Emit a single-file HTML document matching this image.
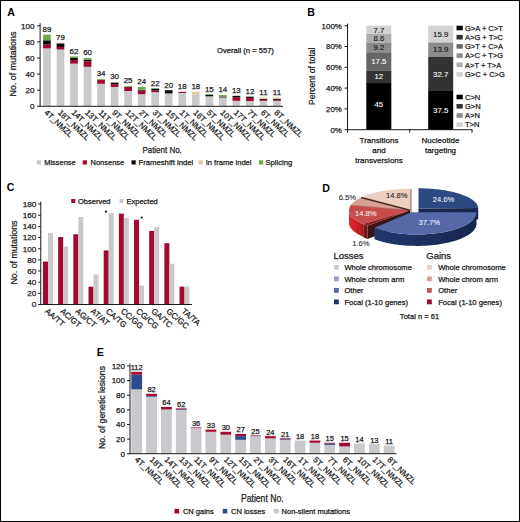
<!DOCTYPE html>
<html lang="en"><head><meta charset="utf-8"><title>Figure</title>
<style>html,body{margin:0;padding:0;background:#fff;overflow:hidden}svg{display:block}text{font-family:"Liberation Sans", sans-serif;}</style>
</head><body>
<svg width="520" height="522" viewBox="0 0 520 522">
<rect x="0" y="0" width="520" height="522" fill="#fff"/>
<text x="7.20" y="16.20" font-size="10.6" font-weight="bold" fill="#000">A</text>
<rect x="43.10" y="48.34" width="7.70" height="57.96" fill="#c9c9cb"/>
<rect x="43.10" y="44.31" width="7.70" height="4.03" fill="#a3082f"/>
<rect x="43.10" y="40.29" width="7.70" height="4.03" fill="#0a0a0a"/>
<rect x="43.10" y="34.66" width="7.70" height="5.64" fill="#6aa84a"/>
<text x="46.95" y="31.95" font-size="7.9" text-anchor="middle" fill="#1a1a1a" stroke="#1a1a1a" stroke-width="0.25">89</text>
<text x="43.85" y="113.20" font-size="8.0" transform="rotate(43.5 43.85 113.20)" fill="#1a1a1a" stroke="#1a1a1a" stroke-width="0.25">4T_NMZL</text>
<rect x="56.63" y="49.55" width="7.70" height="56.75" fill="#c9c9cb"/>
<rect x="56.63" y="46.97" width="7.70" height="2.58" fill="#a3082f"/>
<rect x="56.63" y="43.35" width="7.70" height="3.62" fill="#0a0a0a"/>
<rect x="56.63" y="42.70" width="7.70" height="0.64" fill="#e2c9a0"/>
<text x="60.48" y="40.00" font-size="7.9" text-anchor="middle" fill="#1a1a1a" stroke="#1a1a1a" stroke-width="0.25">79</text>
<text x="57.38" y="113.20" font-size="8.0" transform="rotate(43.5 57.38 113.20)" fill="#1a1a1a" stroke="#1a1a1a" stroke-width="0.25">18T_NMZL</text>
<rect x="70.16" y="63.63" width="7.70" height="42.66" fill="#c9c9cb"/>
<rect x="70.16" y="60.01" width="7.70" height="3.62" fill="#a3082f"/>
<rect x="70.16" y="58.00" width="7.70" height="2.01" fill="#0a0a0a"/>
<rect x="70.16" y="56.39" width="7.70" height="1.61" fill="#6aa84a"/>
<text x="74.01" y="53.69" font-size="7.9" text-anchor="middle" fill="#1a1a1a" stroke="#1a1a1a" stroke-width="0.25">62</text>
<text x="70.91" y="113.20" font-size="8.0" transform="rotate(43.5 70.91 113.20)" fill="#1a1a1a" stroke="#1a1a1a" stroke-width="0.25">14T_NMZL</text>
<rect x="83.69" y="66.85" width="7.70" height="39.45" fill="#c9c9cb"/>
<rect x="83.69" y="61.22" width="7.70" height="5.64" fill="#a3082f"/>
<rect x="83.69" y="59.61" width="7.70" height="1.61" fill="#0a0a0a"/>
<rect x="83.69" y="58.00" width="7.70" height="1.61" fill="#6aa84a"/>
<text x="87.54" y="55.30" font-size="7.9" text-anchor="middle" fill="#1a1a1a" stroke="#1a1a1a" stroke-width="0.25">60</text>
<text x="84.44" y="113.20" font-size="8.0" transform="rotate(43.5 84.44 113.20)" fill="#1a1a1a" stroke="#1a1a1a" stroke-width="0.25">13T_NMZL</text>
<rect x="97.22" y="83.76" width="7.70" height="22.54" fill="#c9c9cb"/>
<rect x="97.22" y="79.73" width="7.70" height="4.03" fill="#a3082f"/>
<rect x="97.22" y="78.93" width="7.70" height="0.81" fill="#6aa84a"/>
<text x="101.07" y="76.23" font-size="7.9" text-anchor="middle" fill="#1a1a1a" stroke="#1a1a1a" stroke-width="0.25">34</text>
<text x="97.97" y="113.20" font-size="8.0" transform="rotate(43.5 97.97 113.20)" fill="#1a1a1a" stroke="#1a1a1a" stroke-width="0.25">11T_NMZL</text>
<rect x="110.75" y="86.98" width="7.70" height="19.32" fill="#c9c9cb"/>
<rect x="110.75" y="84.16" width="7.70" height="2.82" fill="#a3082f"/>
<rect x="110.75" y="82.55" width="7.70" height="1.61" fill="#0a0a0a"/>
<rect x="110.75" y="82.15" width="7.70" height="0.40" fill="#e2c9a0"/>
<text x="114.60" y="79.45" font-size="7.9" text-anchor="middle" fill="#1a1a1a" stroke="#1a1a1a" stroke-width="0.25">30</text>
<text x="111.50" y="113.20" font-size="8.0" transform="rotate(43.5 111.50 113.20)" fill="#1a1a1a" stroke="#1a1a1a" stroke-width="0.25">9T_NMZL</text>
<rect x="124.28" y="91.00" width="7.70" height="15.30" fill="#c9c9cb"/>
<rect x="124.28" y="86.98" width="7.70" height="4.03" fill="#a3082f"/>
<rect x="124.28" y="86.17" width="7.70" height="0.81" fill="#6aa84a"/>
<text x="128.13" y="83.47" font-size="7.9" text-anchor="middle" fill="#1a1a1a" stroke="#1a1a1a" stroke-width="0.25">25</text>
<text x="125.03" y="113.20" font-size="8.0" transform="rotate(43.5 125.03 113.20)" fill="#1a1a1a" stroke="#1a1a1a" stroke-width="0.25">12T_NMZL</text>
<rect x="137.81" y="94.22" width="7.70" height="12.08" fill="#c9c9cb"/>
<rect x="137.81" y="90.60" width="7.70" height="3.62" fill="#a3082f"/>
<rect x="137.81" y="89.80" width="7.70" height="0.81" fill="#0a0a0a"/>
<rect x="137.81" y="86.98" width="7.70" height="2.82" fill="#6aa84a"/>
<text x="141.66" y="84.28" font-size="7.9" text-anchor="middle" fill="#1a1a1a" stroke="#1a1a1a" stroke-width="0.25">24</text>
<text x="138.56" y="113.20" font-size="8.0" transform="rotate(43.5 138.56 113.20)" fill="#1a1a1a" stroke="#1a1a1a" stroke-width="0.25">2T_NMZL</text>
<rect x="151.34" y="92.21" width="7.70" height="14.09" fill="#c9c9cb"/>
<rect x="151.34" y="90.60" width="7.70" height="1.61" fill="#a3082f"/>
<rect x="151.34" y="88.59" width="7.70" height="2.01" fill="#0a0a0a"/>
<text x="155.19" y="85.89" font-size="7.9" text-anchor="middle" fill="#1a1a1a" stroke="#1a1a1a" stroke-width="0.25">22</text>
<text x="152.09" y="113.20" font-size="8.0" transform="rotate(43.5 152.09 113.20)" fill="#1a1a1a" stroke="#1a1a1a" stroke-width="0.25">3T_NMZL</text>
<rect x="164.87" y="93.42" width="7.70" height="12.88" fill="#c9c9cb"/>
<rect x="164.87" y="90.20" width="7.70" height="3.22" fill="#0a0a0a"/>
<text x="168.72" y="87.50" font-size="7.9" text-anchor="middle" fill="#1a1a1a" stroke="#1a1a1a" stroke-width="0.25">20</text>
<text x="165.62" y="113.20" font-size="8.0" transform="rotate(43.5 165.62 113.20)" fill="#1a1a1a" stroke="#1a1a1a" stroke-width="0.25">15T_NMZL</text>
<rect x="178.40" y="92.94" width="7.70" height="13.36" fill="#c9c9cb"/>
<rect x="178.40" y="91.81" width="7.70" height="1.13" fill="#a3082f"/>
<text x="182.25" y="89.11" font-size="7.9" text-anchor="middle" fill="#1a1a1a" stroke="#1a1a1a" stroke-width="0.25">18</text>
<text x="179.15" y="113.20" font-size="8.0" transform="rotate(43.5 179.15 113.20)" fill="#1a1a1a" stroke="#1a1a1a" stroke-width="0.25">1T_NMZL</text>
<rect x="191.93" y="94.63" width="7.70" height="11.67" fill="#c9c9cb"/>
<rect x="191.93" y="91.81" width="7.70" height="2.82" fill="#e2c9a0"/>
<text x="195.78" y="89.11" font-size="7.9" text-anchor="middle" fill="#1a1a1a" stroke="#1a1a1a" stroke-width="0.25">18</text>
<text x="192.68" y="113.20" font-size="8.0" transform="rotate(43.5 192.68 113.20)" fill="#1a1a1a" stroke="#1a1a1a" stroke-width="0.25">16T_NMZL</text>
<rect x="205.46" y="96.32" width="7.70" height="9.98" fill="#c9c9cb"/>
<rect x="205.46" y="94.71" width="7.70" height="1.61" fill="#0a0a0a"/>
<rect x="205.46" y="94.22" width="7.70" height="0.48" fill="#6aa84a"/>
<text x="209.31" y="91.52" font-size="7.9" text-anchor="middle" fill="#1a1a1a" stroke="#1a1a1a" stroke-width="0.25">15</text>
<text x="206.21" y="113.20" font-size="8.0" transform="rotate(43.5 206.21 113.20)" fill="#1a1a1a" stroke="#1a1a1a" stroke-width="0.25">5T_NMZL</text>
<rect x="218.99" y="97.44" width="7.70" height="8.86" fill="#c9c9cb"/>
<rect x="218.99" y="96.48" width="7.70" height="0.97" fill="#0a0a0a"/>
<rect x="218.99" y="95.03" width="7.70" height="1.45" fill="#6aa84a"/>
<text x="222.84" y="92.33" font-size="7.9" text-anchor="middle" fill="#1a1a1a" stroke="#1a1a1a" stroke-width="0.25">14</text>
<text x="219.74" y="113.20" font-size="8.0" transform="rotate(43.5 219.74 113.20)" fill="#1a1a1a" stroke="#1a1a1a" stroke-width="0.25">10T_NMZL</text>
<rect x="232.52" y="100.83" width="7.70" height="5.47" fill="#c9c9cb"/>
<rect x="232.52" y="97.12" width="7.70" height="3.70" fill="#a3082f"/>
<rect x="232.52" y="95.83" width="7.70" height="1.29" fill="#0a0a0a"/>
<text x="236.37" y="93.13" font-size="7.9" text-anchor="middle" fill="#1a1a1a" stroke="#1a1a1a" stroke-width="0.25">13</text>
<text x="233.27" y="113.20" font-size="8.0" transform="rotate(43.5 233.27 113.20)" fill="#1a1a1a" stroke="#1a1a1a" stroke-width="0.25">17T_NMZL</text>
<rect x="246.05" y="101.07" width="7.70" height="5.23" fill="#c9c9cb"/>
<rect x="246.05" y="97.85" width="7.70" height="3.22" fill="#a3082f"/>
<rect x="246.05" y="96.64" width="7.70" height="1.21" fill="#0a0a0a"/>
<text x="249.90" y="93.94" font-size="7.9" text-anchor="middle" fill="#1a1a1a" stroke="#1a1a1a" stroke-width="0.25">12</text>
<text x="246.80" y="113.20" font-size="8.0" transform="rotate(43.5 246.80 113.20)" fill="#1a1a1a" stroke="#1a1a1a" stroke-width="0.25">7T_NMZL</text>
<rect x="259.58" y="100.83" width="7.70" height="5.47" fill="#c9c9cb"/>
<rect x="259.58" y="99.86" width="7.70" height="0.97" fill="#a3082f"/>
<rect x="259.58" y="98.89" width="7.70" height="0.97" fill="#0a0a0a"/>
<rect x="259.58" y="97.45" width="7.70" height="1.45" fill="#e2c9a0"/>
<text x="263.43" y="94.74" font-size="7.9" text-anchor="middle" fill="#1a1a1a" stroke="#1a1a1a" stroke-width="0.25">11</text>
<text x="260.33" y="113.20" font-size="8.0" transform="rotate(43.5 260.33 113.20)" fill="#1a1a1a" stroke="#1a1a1a" stroke-width="0.25">6T_NMZL</text>
<rect x="273.11" y="100.83" width="7.70" height="5.47" fill="#c9c9cb"/>
<rect x="273.11" y="99.86" width="7.70" height="0.97" fill="#a3082f"/>
<rect x="273.11" y="98.89" width="7.70" height="0.97" fill="#0a0a0a"/>
<rect x="273.11" y="97.45" width="7.70" height="1.45" fill="#e2c9a0"/>
<text x="276.96" y="94.74" font-size="7.9" text-anchor="middle" fill="#1a1a1a" stroke="#1a1a1a" stroke-width="0.25">11</text>
<text x="273.86" y="113.20" font-size="8.0" transform="rotate(43.5 273.86 113.20)" fill="#1a1a1a" stroke="#1a1a1a" stroke-width="0.25">8T_NMZL</text>
<line x1="40.10" y1="23.30" x2="40.10" y2="106.80" stroke="#1a1a1a" stroke-width="1"/>
<line x1="39.60" y1="106.30" x2="283.00" y2="106.30" stroke="#1a1a1a" stroke-width="1"/>
<line x1="37.10" y1="106.30" x2="40.10" y2="106.30" stroke="#1a1a1a" stroke-width="1"/>
<text x="34.60" y="109.10" font-size="8.1" text-anchor="end" fill="#1a1a1a" stroke="#1a1a1a" stroke-width="0.25">0</text>
<line x1="37.10" y1="90.20" x2="40.10" y2="90.20" stroke="#1a1a1a" stroke-width="1"/>
<text x="34.60" y="93.00" font-size="8.1" text-anchor="end" fill="#1a1a1a" stroke="#1a1a1a" stroke-width="0.25">20</text>
<line x1="37.10" y1="74.10" x2="40.10" y2="74.10" stroke="#1a1a1a" stroke-width="1"/>
<text x="34.60" y="76.90" font-size="8.1" text-anchor="end" fill="#1a1a1a" stroke="#1a1a1a" stroke-width="0.25">40</text>
<line x1="37.10" y1="58.00" x2="40.10" y2="58.00" stroke="#1a1a1a" stroke-width="1"/>
<text x="34.60" y="60.80" font-size="8.1" text-anchor="end" fill="#1a1a1a" stroke="#1a1a1a" stroke-width="0.25">60</text>
<line x1="37.10" y1="41.90" x2="40.10" y2="41.90" stroke="#1a1a1a" stroke-width="1"/>
<text x="34.60" y="44.70" font-size="8.1" text-anchor="end" fill="#1a1a1a" stroke="#1a1a1a" stroke-width="0.25">80</text>
<line x1="37.10" y1="25.80" x2="40.10" y2="25.80" stroke="#1a1a1a" stroke-width="1"/>
<text x="34.60" y="28.60" font-size="8.1" text-anchor="end" fill="#1a1a1a" stroke="#1a1a1a" stroke-width="0.25">100</text>
<text x="16.20" y="64.00" font-size="8.8" text-anchor="middle" transform="rotate(-90 16.20 64.00)" textLength="65" lengthAdjust="spacingAndGlyphs" fill="#1a1a1a" stroke="#1a1a1a" stroke-width="0.25">No. of mutations</text>
<text x="162.10" y="153.30" font-size="9.4" text-anchor="middle" textLength="39.4" lengthAdjust="spacingAndGlyphs" fill="#1a1a1a" stroke="#1a1a1a" stroke-width="0.25">Patient No.</text>
<text x="217.10" y="52.80" font-size="7.6" textLength="56.8" lengthAdjust="spacingAndGlyphs" fill="#1a1a1a" stroke="#1a1a1a" stroke-width="0.25">Overall (n = 557)</text>
<rect x="36.80" y="160.30" width="4.20" height="4.20" fill="#c9c9cb"/>
<text x="44.20" y="165.10" font-size="7.6" textLength="31.5" lengthAdjust="spacingAndGlyphs" fill="#1a1a1a" stroke="#1a1a1a" stroke-width="0.25">Missense</text>
<rect x="82.70" y="160.30" width="4.20" height="4.20" fill="#a3082f"/>
<text x="90.50" y="165.10" font-size="7.6" textLength="33.7" lengthAdjust="spacingAndGlyphs" fill="#1a1a1a" stroke="#1a1a1a" stroke-width="0.25">Nonsense</text>
<rect x="131.50" y="160.30" width="4.20" height="4.20" fill="#0a0a0a"/>
<text x="138.50" y="165.10" font-size="7.6" textLength="54.8" lengthAdjust="spacingAndGlyphs" fill="#1a1a1a" stroke="#1a1a1a" stroke-width="0.25">Frameshift indel</text>
<rect x="198.50" y="160.30" width="4.20" height="4.20" fill="#e2c9a0"/>
<text x="205.70" y="165.10" font-size="7.6" textLength="45.8" lengthAdjust="spacingAndGlyphs" fill="#1a1a1a" stroke="#1a1a1a" stroke-width="0.25">In frame indel</text>
<rect x="259.00" y="160.30" width="4.20" height="4.20" fill="#6aa84a"/>
<text x="265.40" y="165.10" font-size="7.6" textLength="26.8" lengthAdjust="spacingAndGlyphs" fill="#1a1a1a" stroke="#1a1a1a" stroke-width="0.25">Splicing</text>
<text x="307.30" y="16.20" font-size="10.6" font-weight="bold" fill="#000">B</text>
<rect x="366.30" y="82.90" width="25.00" height="47.10" fill="#000000"/>
<text x="378.80" y="107.10" font-size="7.8" text-anchor="middle" fill="#fff" stroke="#fff" stroke-width="0.1">45</text>
<rect x="366.30" y="70.42" width="25.00" height="12.78" fill="#333333"/>
<text x="378.80" y="79.46" font-size="7.8" text-anchor="middle" fill="#fff" stroke="#fff" stroke-width="0.1">12</text>
<rect x="366.30" y="52.22" width="25.00" height="18.50" fill="#666666"/>
<text x="378.80" y="64.12" font-size="7.8" text-anchor="middle" fill="#fff" stroke="#fff" stroke-width="0.1">17.5</text>
<rect x="366.30" y="42.65" width="25.00" height="9.87" fill="#8c8c8c"/>
<text x="378.80" y="50.24" font-size="7.8" text-anchor="middle" fill="#111" stroke="#111" stroke-width="0.1">9.2</text>
<rect x="366.30" y="33.71" width="25.00" height="9.24" fill="#adadad"/>
<text x="378.80" y="40.98" font-size="7.8" text-anchor="middle" fill="#111" stroke="#111" stroke-width="0.1">8.6</text>
<rect x="366.30" y="25.70" width="25.00" height="8.31" fill="#d2d2d2"/>
<text x="378.80" y="32.50" font-size="7.8" text-anchor="middle" fill="#111" stroke="#111" stroke-width="0.1">7.7</text>
<rect x="428.20" y="90.70" width="25.00" height="39.30" fill="#000000"/>
<text x="440.70" y="113.00" font-size="7.8" text-anchor="middle" fill="#fff" stroke="#fff" stroke-width="0.1">37.5</text>
<rect x="428.20" y="56.69" width="25.00" height="34.31" fill="#333333"/>
<text x="440.70" y="76.50" font-size="7.8" text-anchor="middle" fill="#fff" stroke="#fff" stroke-width="0.1">32.7</text>
<rect x="428.20" y="42.24" width="25.00" height="14.76" fill="#8c8c8c"/>
<text x="440.70" y="52.26" font-size="7.8" text-anchor="middle" fill="#111" stroke="#111" stroke-width="0.1">13.9</text>
<rect x="428.20" y="25.70" width="25.00" height="16.84" fill="#d2d2d2"/>
<text x="440.70" y="36.77" font-size="7.8" text-anchor="middle" fill="#111" stroke="#111" stroke-width="0.1">15.9</text>
<line x1="347.50" y1="23.60" x2="347.50" y2="130.20" stroke="#1a1a1a" stroke-width="1"/>
<line x1="347.00" y1="129.70" x2="472.50" y2="129.70" stroke="#1a1a1a" stroke-width="1"/>
<line x1="347.50" y1="129.70" x2="347.50" y2="132.70" stroke="#1a1a1a" stroke-width="1"/>
<line x1="409.70" y1="129.70" x2="409.70" y2="132.70" stroke="#1a1a1a" stroke-width="1"/>
<line x1="472.00" y1="129.70" x2="472.00" y2="132.70" stroke="#1a1a1a" stroke-width="1"/>
<line x1="344.50" y1="129.70" x2="347.50" y2="129.70" stroke="#1a1a1a" stroke-width="1"/>
<text x="341.80" y="132.50" font-size="7.9" text-anchor="end" fill="#1a1a1a" stroke="#1a1a1a" stroke-width="0.25">0%</text>
<line x1="344.50" y1="108.90" x2="347.50" y2="108.90" stroke="#1a1a1a" stroke-width="1"/>
<text x="341.80" y="111.70" font-size="7.9" text-anchor="end" fill="#1a1a1a" stroke="#1a1a1a" stroke-width="0.25">20%</text>
<line x1="344.50" y1="88.10" x2="347.50" y2="88.10" stroke="#1a1a1a" stroke-width="1"/>
<text x="341.80" y="90.90" font-size="7.9" text-anchor="end" fill="#1a1a1a" stroke="#1a1a1a" stroke-width="0.25">40%</text>
<line x1="344.50" y1="67.30" x2="347.50" y2="67.30" stroke="#1a1a1a" stroke-width="1"/>
<text x="341.80" y="70.10" font-size="7.9" text-anchor="end" fill="#1a1a1a" stroke="#1a1a1a" stroke-width="0.25">60%</text>
<line x1="344.50" y1="46.50" x2="347.50" y2="46.50" stroke="#1a1a1a" stroke-width="1"/>
<text x="341.80" y="49.30" font-size="7.9" text-anchor="end" fill="#1a1a1a" stroke="#1a1a1a" stroke-width="0.25">80%</text>
<line x1="344.50" y1="25.70" x2="347.50" y2="25.70" stroke="#1a1a1a" stroke-width="1"/>
<text x="341.80" y="28.50" font-size="7.9" text-anchor="end" fill="#1a1a1a" stroke="#1a1a1a" stroke-width="0.25">100%</text>
<text x="314.90" y="76.30" font-size="8.8" text-anchor="middle" transform="rotate(-90 314.90 76.30)" textLength="57.5" lengthAdjust="spacingAndGlyphs" fill="#1a1a1a" stroke="#1a1a1a" stroke-width="0.25">Percent of total</text>
<text x="379.00" y="142.80" font-size="8" text-anchor="middle" fill="#1a1a1a" stroke="#1a1a1a" stroke-width="0.25">Transitions</text>
<text x="379.00" y="152.80" font-size="8" text-anchor="middle" fill="#1a1a1a" stroke="#1a1a1a" stroke-width="0.25">and</text>
<text x="379.00" y="162.80" font-size="8" text-anchor="middle" fill="#1a1a1a" stroke="#1a1a1a" stroke-width="0.25">transversions</text>
<text x="440.50" y="142.80" font-size="8" text-anchor="middle" fill="#1a1a1a" stroke="#1a1a1a" stroke-width="0.25">Nucleotide</text>
<text x="440.50" y="152.80" font-size="8" text-anchor="middle" fill="#1a1a1a" stroke="#1a1a1a" stroke-width="0.25">targeting</text>
<rect x="456.50" y="25.70" width="6.30" height="4.60" fill="#000000"/>
<text x="465.00" y="30.70" font-size="7.5" fill="#1a1a1a" stroke="#1a1a1a" stroke-width="0.25">G&gt;A + C&gt;T</text>
<rect x="456.50" y="34.90" width="6.30" height="4.60" fill="#333333"/>
<text x="465.00" y="39.90" font-size="7.5" fill="#1a1a1a" stroke="#1a1a1a" stroke-width="0.25">A&gt;G + T&gt;C</text>
<rect x="456.50" y="44.10" width="6.30" height="4.60" fill="#666666"/>
<text x="465.00" y="49.10" font-size="7.5" fill="#1a1a1a" stroke="#1a1a1a" stroke-width="0.25">G&gt;T + C&gt;A</text>
<rect x="456.50" y="53.30" width="6.30" height="4.60" fill="#8c8c8c"/>
<text x="465.00" y="58.30" font-size="7.5" fill="#1a1a1a" stroke="#1a1a1a" stroke-width="0.25">A&gt;C + T&gt;G</text>
<rect x="456.50" y="62.50" width="6.30" height="4.60" fill="#adadad"/>
<text x="465.00" y="67.50" font-size="7.5" fill="#1a1a1a" stroke="#1a1a1a" stroke-width="0.25">A&gt;T + T&gt;A</text>
<rect x="456.50" y="72.10" width="6.30" height="4.60" fill="#d2d2d2"/>
<text x="465.00" y="77.10" font-size="7.5" fill="#1a1a1a" stroke="#1a1a1a" stroke-width="0.25">G&gt;C + C&gt;G</text>
<rect x="456.50" y="94.70" width="6.30" height="4.60" fill="#000000"/>
<text x="465.00" y="99.70" font-size="7.5" fill="#1a1a1a" stroke="#1a1a1a" stroke-width="0.25">C&gt;N</text>
<rect x="456.50" y="104.00" width="6.30" height="4.60" fill="#333333"/>
<text x="465.00" y="109.00" font-size="7.5" fill="#1a1a1a" stroke="#1a1a1a" stroke-width="0.25">G&gt;N</text>
<rect x="456.50" y="113.20" width="6.30" height="4.60" fill="#8c8c8c"/>
<text x="465.00" y="118.20" font-size="7.5" fill="#1a1a1a" stroke="#1a1a1a" stroke-width="0.25">A&gt;N</text>
<rect x="456.50" y="122.30" width="6.30" height="4.60" fill="#d2d2d2"/>
<text x="465.00" y="127.30" font-size="7.5" fill="#1a1a1a" stroke="#1a1a1a" stroke-width="0.25">T&gt;N</text>
<text x="6.80" y="191.30" font-size="10.6" font-weight="bold" fill="#000">C</text>
<rect x="43.00" y="261.57" width="5.00" height="42.93" fill="#a3082f"/>
<rect x="48.00" y="233.14" width="5.00" height="71.36" fill="#c9c9cb"/>
<text x="44.50" y="311.90" font-size="8.1" transform="rotate(41 44.50 311.90)" fill="#1a1a1a" stroke="#1a1a1a" stroke-width="0.25">AA/TT</text>
<rect x="58.17" y="237.04" width="5.00" height="67.46" fill="#a3082f"/>
<rect x="63.17" y="246.52" width="5.00" height="57.98" fill="#c9c9cb"/>
<text x="59.67" y="311.90" font-size="8.1" transform="rotate(41 59.67 311.90)" fill="#1a1a1a" stroke="#1a1a1a" stroke-width="0.25">AC/GT</text>
<rect x="73.34" y="234.25" width="5.00" height="70.25" fill="#a3082f"/>
<rect x="78.34" y="216.97" width="5.00" height="87.53" fill="#c9c9cb"/>
<text x="74.84" y="311.90" font-size="8.1" transform="rotate(41 74.84 311.90)" fill="#1a1a1a" stroke="#1a1a1a" stroke-width="0.25">AG/CT</text>
<rect x="88.51" y="286.66" width="5.00" height="17.84" fill="#a3082f"/>
<rect x="93.51" y="274.39" width="5.00" height="30.11" fill="#c9c9cb"/>
<text x="90.01" y="311.90" font-size="8.1" transform="rotate(41 90.01 311.90)" fill="#1a1a1a" stroke="#1a1a1a" stroke-width="0.25">AT/AT</text>
<rect x="103.68" y="250.42" width="5.00" height="54.08" fill="#a3082f"/>
<rect x="108.68" y="213.07" width="5.00" height="91.43" fill="#c9c9cb"/>
<text x="105.18" y="311.90" font-size="8.1" transform="rotate(41 105.18 311.90)" fill="#1a1a1a" stroke="#1a1a1a" stroke-width="0.25">CA/TG</text>
<rect x="118.85" y="213.63" width="5.00" height="90.87" fill="#a3082f"/>
<rect x="123.85" y="218.09" width="5.00" height="86.41" fill="#c9c9cb"/>
<text x="120.35" y="311.90" font-size="8.1" transform="rotate(41 120.35 311.90)" fill="#1a1a1a" stroke="#1a1a1a" stroke-width="0.25">CC/GG</text>
<rect x="134.02" y="219.76" width="5.00" height="84.74" fill="#a3082f"/>
<rect x="139.02" y="285.55" width="5.00" height="18.95" fill="#c9c9cb"/>
<text x="135.52" y="311.90" font-size="8.1" transform="rotate(41 135.52 311.90)" fill="#1a1a1a" stroke="#1a1a1a" stroke-width="0.25">CG/CG</text>
<rect x="149.19" y="230.91" width="5.00" height="73.59" fill="#a3082f"/>
<rect x="154.19" y="227.01" width="5.00" height="77.49" fill="#c9c9cb"/>
<text x="150.69" y="311.90" font-size="8.1" transform="rotate(41 150.69 311.90)" fill="#1a1a1a" stroke="#1a1a1a" stroke-width="0.25">GA/TC</text>
<rect x="164.36" y="243.18" width="5.00" height="61.33" fill="#a3082f"/>
<rect x="169.36" y="263.80" width="5.00" height="40.70" fill="#c9c9cb"/>
<text x="165.86" y="311.90" font-size="8.1" transform="rotate(41 165.86 311.90)" fill="#1a1a1a" stroke="#1a1a1a" stroke-width="0.25">GC/GC</text>
<rect x="179.53" y="286.66" width="5.00" height="17.84" fill="#a3082f"/>
<rect x="184.53" y="286.66" width="5.00" height="17.84" fill="#c9c9cb"/>
<text x="181.03" y="311.90" font-size="8.1" transform="rotate(41 181.03 311.90)" fill="#1a1a1a" stroke="#1a1a1a" stroke-width="0.25">TA/TA</text>
<line x1="40.75" y1="201.60" x2="40.75" y2="305.00" stroke="#1a1a1a" stroke-width="1"/>
<line x1="40.25" y1="304.50" x2="192.00" y2="304.50" stroke="#1a1a1a" stroke-width="1"/>
<line x1="38.15" y1="304.50" x2="40.75" y2="304.50" stroke="#1a1a1a" stroke-width="1"/>
<text x="36.20" y="307.30" font-size="8.1" text-anchor="end" fill="#1a1a1a" stroke="#1a1a1a" stroke-width="0.25">0</text>
<line x1="38.15" y1="293.35" x2="40.75" y2="293.35" stroke="#1a1a1a" stroke-width="1"/>
<text x="36.20" y="296.15" font-size="8.1" text-anchor="end" fill="#1a1a1a" stroke="#1a1a1a" stroke-width="0.25">20</text>
<line x1="38.15" y1="282.20" x2="40.75" y2="282.20" stroke="#1a1a1a" stroke-width="1"/>
<text x="36.20" y="285.00" font-size="8.1" text-anchor="end" fill="#1a1a1a" stroke="#1a1a1a" stroke-width="0.25">40</text>
<line x1="38.15" y1="271.05" x2="40.75" y2="271.05" stroke="#1a1a1a" stroke-width="1"/>
<text x="36.20" y="273.85" font-size="8.1" text-anchor="end" fill="#1a1a1a" stroke="#1a1a1a" stroke-width="0.25">60</text>
<line x1="38.15" y1="259.90" x2="40.75" y2="259.90" stroke="#1a1a1a" stroke-width="1"/>
<text x="36.20" y="262.70" font-size="8.1" text-anchor="end" fill="#1a1a1a" stroke="#1a1a1a" stroke-width="0.25">80</text>
<line x1="38.15" y1="248.75" x2="40.75" y2="248.75" stroke="#1a1a1a" stroke-width="1"/>
<text x="36.20" y="251.55" font-size="8.1" text-anchor="end" fill="#1a1a1a" stroke="#1a1a1a" stroke-width="0.25">100</text>
<line x1="38.15" y1="237.60" x2="40.75" y2="237.60" stroke="#1a1a1a" stroke-width="1"/>
<text x="36.20" y="240.40" font-size="8.1" text-anchor="end" fill="#1a1a1a" stroke="#1a1a1a" stroke-width="0.25">120</text>
<line x1="38.15" y1="226.45" x2="40.75" y2="226.45" stroke="#1a1a1a" stroke-width="1"/>
<text x="36.20" y="229.25" font-size="8.1" text-anchor="end" fill="#1a1a1a" stroke="#1a1a1a" stroke-width="0.25">140</text>
<line x1="38.15" y1="215.30" x2="40.75" y2="215.30" stroke="#1a1a1a" stroke-width="1"/>
<text x="36.20" y="218.10" font-size="8.1" text-anchor="end" fill="#1a1a1a" stroke="#1a1a1a" stroke-width="0.25">160</text>
<line x1="38.15" y1="204.15" x2="40.75" y2="204.15" stroke="#1a1a1a" stroke-width="1"/>
<text x="36.20" y="206.95" font-size="8.1" text-anchor="end" fill="#1a1a1a" stroke="#1a1a1a" stroke-width="0.25">180</text>
<text x="17.30" y="252.50" font-size="8.8" text-anchor="middle" transform="rotate(-90 17.30 252.50)" textLength="64" lengthAdjust="spacingAndGlyphs" fill="#1a1a1a" stroke="#1a1a1a" stroke-width="0.25">No. of mutations</text>
<circle cx="106" cy="211.7" r="1.1" fill="#111"/>
<circle cx="141.7" cy="217.5" r="1.1" fill="#111"/>
<rect x="71.30" y="199.00" width="4.00" height="4.00" fill="#a3082f"/>
<text x="78.00" y="203.90" font-size="7.5" fill="#1a1a1a" stroke="#1a1a1a" stroke-width="0.25">Observed</text>
<rect x="119.50" y="199.00" width="4.00" height="4.00" fill="#c9c9cb"/>
<text x="126.50" y="203.90" font-size="7.5" fill="#1a1a1a" stroke="#1a1a1a" stroke-width="0.25">Expected</text>
<text x="322.20" y="191.70" font-size="10.6" font-weight="bold" fill="#000">D</text>
<defs><linearGradient id="rw" gradientUnits="userSpaceOnUse" x1="349" x2="366" y1="0" y2="0"><stop offset="0" stop-color="#e0282c"/><stop offset="0.45" stop-color="#cc1f26"/><stop offset="1" stop-color="#9a161c"/></linearGradient><linearGradient id="bw" gradientUnits="userSpaceOnUse" x1="375" x2="477" y1="0" y2="0"><stop offset="0" stop-color="#22386b"/><stop offset="0.55" stop-color="#1c2f5e"/><stop offset="1" stop-color="#15254c"/></linearGradient></defs>
<path d="M410.00,210.30 L367.41,225.69 L367.41,238.89 L410.00,223.50Z" fill="#3c1612"/>
<path d="M410.00,188.80 L411.80,189.30 L411.80,214.80 L410.00,214.80Z" fill="#b79b8d"/>
<path d="M363.24,224.11 L362.68,223.87 L362.13,223.62 L361.58,223.38 L361.05,223.13 L360.52,222.88 L360.01,222.62 L359.51,222.36 L359.02,222.10 L358.53,221.84 L358.06,221.58 L357.60,221.31 L357.16,221.04 L356.72,220.77 L356.29,220.49 L355.88,220.22 L355.48,219.94 L355.08,219.66 L354.70,219.38 L354.34,219.09 L353.98,218.81 L353.63,218.52 L353.30,218.23 L352.98,217.94 L352.67,217.65 L352.37,217.35 L352.09,217.06 L351.82,216.76 L351.56,216.46 L351.31,216.16 L351.07,215.86 L350.85,215.56 L350.64,215.25 L350.44,214.95 L350.26,214.64 L350.08,214.34 L349.92,214.03 L349.78,213.72 L349.64,213.41 L349.52,213.10 L349.41,212.79 L349.32,212.48 L349.23,212.17 L349.16,211.86 L349.10,211.55 L349.06,211.24 L349.03,210.92 L349.01,210.61 L349.00,210.30 L349.00,222.90 L349.01,223.21 L349.03,223.52 L349.06,223.84 L349.10,224.15 L349.16,224.46 L349.23,224.77 L349.32,225.08 L349.41,225.39 L349.52,225.70 L349.64,226.01 L349.78,226.32 L349.92,226.63 L350.08,226.94 L350.26,227.24 L350.44,227.55 L350.64,227.85 L350.85,228.16 L351.07,228.46 L351.31,228.76 L351.56,229.06 L351.82,229.36 L352.09,229.66 L352.37,229.95 L352.67,230.25 L352.98,230.54 L353.30,230.83 L353.63,231.12 L353.98,231.41 L354.34,231.69 L354.70,231.98 L355.08,232.26 L355.48,232.54 L355.88,232.82 L356.29,233.09 L356.72,233.37 L357.16,233.64 L357.60,233.91 L358.06,234.18 L358.53,234.44 L359.02,234.70 L359.51,234.96 L360.01,235.22 L360.52,235.48 L361.05,235.73 L361.58,235.98 L362.13,236.22 L362.68,236.47 L363.24,236.71Z" fill="url(#rw)"/>
<path d="M367.41,225.69 L367.32,225.66 L367.23,225.63 L367.14,225.60 L367.05,225.57 L366.96,225.53 L366.87,225.50 L366.78,225.47 L366.69,225.44 L366.60,225.41 L366.51,225.37 L366.42,225.34 L366.33,225.31 L366.24,225.28 L366.15,225.25 L366.06,225.21 L365.97,225.18 L365.88,225.15 L365.80,225.12 L365.71,225.08 L365.62,225.05 L365.53,225.02 L365.45,224.98 L365.36,224.95 L365.27,224.92 L365.18,224.89 L365.10,224.85 L365.01,224.82 L364.93,224.79 L364.84,224.75 L364.75,224.72 L364.67,224.69 L364.58,224.65 L364.50,224.62 L364.41,224.59 L364.33,224.55 L364.24,224.52 L364.16,224.48 L364.07,224.45 L363.99,224.42 L363.91,224.38 L363.82,224.35 L363.74,224.31 L363.66,224.28 L363.57,224.25 L363.49,224.21 L363.41,224.18 L363.33,224.14 L363.24,224.11 L363.24,237.31 L363.33,237.34 L363.41,237.38 L363.49,237.41 L363.57,237.45 L363.66,237.48 L363.74,237.51 L363.82,237.55 L363.91,237.58 L363.99,237.62 L364.07,237.65 L364.16,237.68 L364.24,237.72 L364.33,237.75 L364.41,237.79 L364.50,237.82 L364.58,237.85 L364.67,237.89 L364.75,237.92 L364.84,237.95 L364.93,237.99 L365.01,238.02 L365.10,238.05 L365.18,238.09 L365.27,238.12 L365.36,238.15 L365.45,238.18 L365.53,238.22 L365.62,238.25 L365.71,238.28 L365.80,238.32 L365.88,238.35 L365.97,238.38 L366.06,238.41 L366.15,238.45 L366.24,238.48 L366.33,238.51 L366.42,238.54 L366.51,238.57 L366.60,238.61 L366.69,238.64 L366.78,238.67 L366.87,238.70 L366.96,238.73 L367.05,238.77 L367.14,238.80 L367.23,238.83 L367.32,238.86 L367.41,238.89Z" fill="#74161a"/>
<path d="M410.00,210.30 L361.10,197.45 L361.82,197.11 L362.55,196.79 L363.31,196.47 L364.07,196.15 L364.86,195.84 L365.66,195.53 L366.48,195.23 L367.32,194.94 L368.17,194.65 L369.04,194.37 L369.92,194.09 L370.82,193.82 L371.74,193.56 L372.66,193.30 L373.60,193.05 L374.56,192.80 L375.53,192.56 L376.51,192.33 L377.50,192.10 L378.51,191.89 L379.53,191.67 L380.56,191.47 L381.60,191.27 L382.65,191.08 L383.71,190.90 L384.78,190.72 L385.86,190.55 L386.95,190.39 L388.05,190.24 L389.16,190.09 L390.27,189.96 L391.39,189.82 L392.52,189.70 L393.66,189.59 L394.80,189.48 L395.95,189.38 L397.10,189.29 L398.26,189.20 L399.42,189.13 L400.58,189.06 L401.75,189.00 L402.93,188.95 L404.10,188.90 L405.28,188.86 L406.46,188.84 L407.64,188.82 L408.82,188.80 L410.00,188.80Z" fill="#eccfc0"/>
<path d="M410.00,210.30 L350.64,205.35 L350.76,205.17 L350.89,204.99 L351.02,204.81 L351.15,204.64 L351.29,204.46 L351.44,204.29 L351.58,204.11 L351.73,203.94 L351.89,203.76 L352.05,203.59 L352.21,203.41 L352.38,203.24 L352.56,203.07 L352.73,202.90 L352.91,202.72 L353.10,202.55 L353.29,202.38 L353.48,202.21 L353.68,202.04 L353.88,201.88 L354.08,201.71 L354.29,201.54 L354.51,201.37 L354.72,201.21 L354.95,201.04 L355.17,200.88 L355.40,200.71 L355.63,200.55 L355.87,200.39 L356.11,200.22 L356.36,200.06 L356.61,199.90 L356.86,199.74 L357.12,199.58 L357.38,199.43 L357.64,199.27 L357.91,199.11 L358.18,198.96 L358.46,198.80 L358.74,198.65 L359.02,198.49 L359.31,198.34 L359.60,198.19 L359.89,198.04 L360.19,197.89 L360.49,197.74 L360.80,197.59 L361.10,197.45Z" fill="#d6a092"/>
<path d="M410.00,210.30 L363.24,224.11 L362.49,223.79 L361.76,223.46 L361.05,223.13 L360.35,222.79 L359.67,222.45 L359.02,222.10 L358.38,221.75 L357.76,221.40 L357.16,221.04 L356.58,220.68 L356.02,220.31 L355.48,219.94 L354.96,219.57 L354.46,219.19 L353.98,218.81 L353.52,218.42 L353.09,218.04 L352.67,217.65 L352.28,217.25 L351.91,216.86 L351.56,216.46 L351.23,216.06 L350.92,215.66 L350.64,215.25 L350.38,214.85 L350.14,214.44 L349.92,214.03 L349.73,213.62 L349.56,213.21 L349.41,212.79 L349.29,212.38 L349.18,211.96 L349.10,211.55 L349.05,211.13 L349.01,210.72 L349.00,210.30 L349.01,209.88 L349.05,209.47 L349.10,209.05 L349.18,208.64 L349.29,208.22 L349.41,207.81 L349.56,207.39 L349.73,206.98 L349.92,206.57 L350.14,206.16 L350.38,205.75 L350.64,205.35Z" fill="#c54c4a"/>
<path d="M410.00,210.30 L367.41,225.69 L367.32,225.66 L367.23,225.63 L367.14,225.60 L367.05,225.57 L366.96,225.53 L366.87,225.50 L366.78,225.47 L366.69,225.44 L366.60,225.41 L366.51,225.37 L366.42,225.34 L366.33,225.31 L366.24,225.28 L366.15,225.25 L366.06,225.21 L365.97,225.18 L365.88,225.15 L365.80,225.12 L365.71,225.08 L365.62,225.05 L365.53,225.02 L365.45,224.98 L365.36,224.95 L365.27,224.92 L365.18,224.89 L365.10,224.85 L365.01,224.82 L364.93,224.79 L364.84,224.75 L364.75,224.72 L364.67,224.69 L364.58,224.65 L364.50,224.62 L364.41,224.59 L364.33,224.55 L364.24,224.52 L364.16,224.48 L364.07,224.45 L363.99,224.42 L363.91,224.38 L363.82,224.35 L363.74,224.31 L363.66,224.28 L363.57,224.25 L363.49,224.21 L363.41,224.18 L363.33,224.14 L363.24,224.11Z" fill="#8a1c1e"/>
<line x1="410.00" y1="210.30" x2="350.64" y2="205.35" stroke="#a85f55" stroke-width="0.7"/>
<line x1="410.00" y1="210.30" x2="361.10" y2="197.45" stroke="#4a2a22" stroke-width="1.5"/>
<path d="M418.50,208.50 L478.18,207.99 L478.18,219.39 L418.50,219.90Z" fill="#17274f"/>
<path d="M418.50,208.50 L418.50,188.30 L420.42,188.31 L422.34,188.34 L424.26,188.39 L426.17,188.47 L428.07,188.56 L429.96,188.68 L431.84,188.81 L433.71,188.97 L435.56,189.14 L437.39,189.34 L439.21,189.55 L441.00,189.79 L442.77,190.04 L444.51,190.32 L446.23,190.61 L447.92,190.92 L449.57,191.25 L451.20,191.60 L452.79,191.96 L454.35,192.35 L455.86,192.75 L457.34,193.16 L458.78,193.59 L460.18,194.04 L461.53,194.50 L462.84,194.98 L464.11,195.47 L465.33,195.97 L466.49,196.49 L467.61,197.02 L468.68,197.56 L469.69,198.11 L470.66,198.67 L471.56,199.24 L472.42,199.83 L473.22,200.42 L473.96,201.02 L474.64,201.63 L475.26,202.24 L475.83,202.86 L476.34,203.49 L476.78,204.12 L477.17,204.76 L477.49,205.40 L477.76,206.05 L477.96,206.69 L478.10,207.34 L478.18,207.99Z" fill="#2d4981"/>
<path d="M476.50,212.30 L476.43,213.39 L476.21,214.49 L475.85,215.57 L475.35,216.65 L474.70,217.72 L473.92,218.77 L472.99,219.81 L471.93,220.83 L470.74,221.83 L469.41,222.81 L467.96,223.76 L466.39,224.68 L464.69,225.58 L462.88,226.44 L460.96,227.26 L458.93,228.05 L456.79,228.80 L454.57,229.52 L452.25,230.19 L449.84,230.81 L447.35,231.39 L444.80,231.93 L442.17,232.42 L439.48,232.85 L436.74,233.24 L433.95,233.58 L431.12,233.87 L428.25,234.10 L425.36,234.28 L422.44,234.41 L419.52,234.48 L416.58,234.50 L413.65,234.46 L410.73,234.38 L407.82,234.23 L404.93,234.04 L402.08,233.79 L399.26,233.49 L396.48,233.14 L393.75,232.74 L391.08,232.28 L388.47,231.78 L385.93,231.23 L383.47,230.64 L381.09,230.00 L378.79,229.32 L376.59,228.60 L374.49,227.83 L374.49,239.23 L376.59,240.00 L378.79,240.72 L381.09,241.40 L383.47,242.04 L385.93,242.63 L388.47,243.18 L391.08,243.68 L393.75,244.14 L396.48,244.54 L399.26,244.89 L402.08,245.19 L404.93,245.44 L407.82,245.63 L410.73,245.78 L413.65,245.86 L416.58,245.90 L419.52,245.88 L422.44,245.81 L425.36,245.68 L428.25,245.50 L431.12,245.27 L433.95,244.98 L436.74,244.64 L439.48,244.25 L442.17,243.82 L444.80,243.33 L447.35,242.79 L449.84,242.21 L452.25,241.59 L454.57,240.92 L456.79,240.20 L458.93,239.45 L460.96,238.66 L462.88,237.84 L464.69,236.98 L466.39,236.08 L467.96,235.16 L469.41,234.21 L470.74,233.23 L471.93,232.23 L472.99,231.21 L473.92,230.17 L474.70,229.12 L475.35,228.05 L475.85,226.97 L476.21,225.89 L476.43,224.79 L476.50,223.70Z" fill="url(#bw)"/>
<path d="M411.50,212.30 L476.50,212.30 L476.43,213.39 L476.21,214.49 L475.85,215.57 L475.35,216.65 L474.70,217.72 L473.92,218.77 L472.99,219.81 L471.93,220.83 L470.74,221.83 L469.41,222.81 L467.96,223.76 L466.39,224.68 L464.69,225.58 L462.88,226.44 L460.96,227.26 L458.93,228.05 L456.79,228.80 L454.57,229.52 L452.25,230.19 L449.84,230.81 L447.35,231.39 L444.80,231.93 L442.17,232.42 L439.48,232.85 L436.74,233.24 L433.95,233.58 L431.12,233.87 L428.25,234.10 L425.36,234.28 L422.44,234.41 L419.52,234.48 L416.58,234.50 L413.65,234.46 L410.73,234.38 L407.82,234.23 L404.93,234.04 L402.08,233.79 L399.26,233.49 L396.48,233.14 L393.75,232.74 L391.08,232.28 L388.47,231.78 L385.93,231.23 L383.47,230.64 L381.09,230.00 L378.79,229.32 L376.59,228.60 L374.49,227.83Z" fill="#5569a8"/>
<text x="347.30" y="199.80" font-size="7.6" text-anchor="middle" fill="#222" stroke="#222" stroke-width="0.08">6.5%</text>
<text x="396.80" y="198.20" font-size="7.6" text-anchor="middle" fill="#222" stroke="#222" stroke-width="0.08">14.8%</text>
<text x="365.80" y="215.60" font-size="7.6" text-anchor="middle" fill="#fbeaea" stroke="#fbeaea" stroke-width="0.08">14.8%</text>
<text x="360.80" y="246.30" font-size="7.6" text-anchor="middle" fill="#222" stroke="#222" stroke-width="0.08">1.6%</text>
<text x="443.60" y="201.80" font-size="7.6" text-anchor="middle" fill="#eef1fa" stroke="#eef1fa" stroke-width="0.08">24.6%</text>
<text x="429.20" y="225.30" font-size="7.6" text-anchor="middle" fill="#eef1fa" stroke="#eef1fa" stroke-width="0.08">37.7%</text>
<text x="333.40" y="258.50" font-size="9.5" fill="#1a1a1a" stroke="#1a1a1a" stroke-width="0.25">Losses</text>
<text x="426.30" y="258.50" font-size="9.5" fill="#1a1a1a" stroke="#1a1a1a" stroke-width="0.25">Gains</text>
<rect x="334.00" y="264.90" width="4.80" height="4.80" fill="#cbcbd3"/>
<text x="344.40" y="270.00" font-size="7.6" fill="#1a1a1a" stroke="#1a1a1a" stroke-width="0.25">Whole chromosome</text>
<rect x="427.00" y="264.90" width="4.80" height="4.80" fill="#e9d2c3"/>
<text x="438.20" y="270.00" font-size="7.6" fill="#1a1a1a" stroke="#1a1a1a" stroke-width="0.25">Whole chromosome</text>
<rect x="334.00" y="276.43" width="4.80" height="4.80" fill="#9a9cc8"/>
<text x="344.40" y="281.53" font-size="7.6" fill="#1a1a1a" stroke="#1a1a1a" stroke-width="0.25">Whole chrom arm</text>
<rect x="427.00" y="276.43" width="4.80" height="4.80" fill="#d3a394"/>
<text x="438.20" y="281.53" font-size="7.6" fill="#1a1a1a" stroke="#1a1a1a" stroke-width="0.25">Whole chrom arm</text>
<rect x="334.00" y="287.96" width="4.80" height="4.80" fill="#5768a4"/>
<text x="344.40" y="293.06" font-size="7.6" fill="#1a1a1a" stroke="#1a1a1a" stroke-width="0.25">Other</text>
<rect x="427.00" y="287.96" width="4.80" height="4.80" fill="#c2584f"/>
<text x="438.20" y="293.06" font-size="7.6" fill="#1a1a1a" stroke="#1a1a1a" stroke-width="0.25">Other</text>
<rect x="334.00" y="299.49" width="4.80" height="4.80" fill="#1f3566"/>
<text x="344.40" y="304.59" font-size="7.6" fill="#1a1a1a" stroke="#1a1a1a" stroke-width="0.25">Focal (1-10 genes)</text>
<rect x="427.00" y="299.49" width="4.80" height="4.80" fill="#9c0a2c"/>
<text x="438.20" y="304.59" font-size="7.6" fill="#1a1a1a" stroke="#1a1a1a" stroke-width="0.25">Focal (1-10 genes)</text>
<text x="419.60" y="318.70" font-size="7.6" text-anchor="middle" fill="#1a1a1a" stroke="#1a1a1a" stroke-width="0.25">Total n = 61</text>
<text x="96.80" y="356.30" font-size="10.6" font-weight="bold" fill="#000">E</text>
<rect x="131.30" y="389.37" width="10.80" height="64.33" fill="#c9c9cd"/>
<rect x="131.30" y="374.75" width="10.80" height="14.62" fill="#2b4b8c"/>
<rect x="131.30" y="371.83" width="10.80" height="2.92" fill="#a3082f"/>
<text x="136.70" y="370.23" font-size="7.5" text-anchor="middle" fill="#1a1a1a" stroke="#1a1a1a" stroke-width="0.25">112</text>
<text x="134.30" y="460.30" font-size="8.1" transform="rotate(43.5 134.30 460.30)" fill="#1a1a1a" stroke="#1a1a1a" stroke-width="0.25">4T_NMZL</text>
<rect x="146.15" y="396.68" width="10.80" height="57.02" fill="#c9c9cd"/>
<rect x="146.15" y="395.95" width="10.80" height="0.73" fill="#2b4b8c"/>
<rect x="146.15" y="393.76" width="10.80" height="2.19" fill="#a3082f"/>
<text x="151.55" y="392.16" font-size="7.5" text-anchor="middle" fill="#1a1a1a" stroke="#1a1a1a" stroke-width="0.25">82</text>
<text x="149.15" y="460.30" font-size="8.1" transform="rotate(43.5 149.15 460.30)" fill="#1a1a1a" stroke="#1a1a1a" stroke-width="0.25">18T_NMZL</text>
<rect x="161.00" y="409.47" width="10.80" height="44.23" fill="#c9c9cd"/>
<rect x="161.00" y="406.92" width="10.80" height="2.56" fill="#a3082f"/>
<text x="166.40" y="405.32" font-size="7.5" text-anchor="middle" fill="#1a1a1a" stroke="#1a1a1a" stroke-width="0.25">64</text>
<text x="164.00" y="460.30" font-size="8.1" transform="rotate(43.5 164.00 460.30)" fill="#1a1a1a" stroke="#1a1a1a" stroke-width="0.25">14T_NMZL</text>
<rect x="175.85" y="409.84" width="10.80" height="43.86" fill="#c9c9cd"/>
<rect x="175.85" y="409.11" width="10.80" height="0.73" fill="#2b4b8c"/>
<rect x="175.85" y="408.38" width="10.80" height="0.73" fill="#a3082f"/>
<text x="181.25" y="406.78" font-size="7.5" text-anchor="middle" fill="#1a1a1a" stroke="#1a1a1a" stroke-width="0.25">62</text>
<text x="178.85" y="460.30" font-size="8.1" transform="rotate(43.5 178.85 460.30)" fill="#1a1a1a" stroke="#1a1a1a" stroke-width="0.25">13T_NMZL</text>
<rect x="190.70" y="428.12" width="10.80" height="25.59" fill="#c9c9cd"/>
<rect x="190.70" y="427.38" width="10.80" height="0.73" fill="#a3082f"/>
<text x="196.10" y="425.78" font-size="7.5" text-anchor="middle" fill="#1a1a1a" stroke="#1a1a1a" stroke-width="0.25">36</text>
<text x="193.70" y="460.30" font-size="8.1" transform="rotate(43.5 193.70 460.30)" fill="#1a1a1a" stroke="#1a1a1a" stroke-width="0.25">11T_NMZL</text>
<rect x="205.55" y="431.77" width="10.80" height="21.93" fill="#c9c9cd"/>
<rect x="205.55" y="429.58" width="10.80" height="2.19" fill="#a3082f"/>
<text x="210.95" y="427.98" font-size="7.5" text-anchor="middle" fill="#1a1a1a" stroke="#1a1a1a" stroke-width="0.25">33</text>
<text x="208.55" y="460.30" font-size="8.1" transform="rotate(43.5 208.55 460.30)" fill="#1a1a1a" stroke="#1a1a1a" stroke-width="0.25">9T_NMZL</text>
<rect x="220.40" y="434.69" width="10.80" height="19.01" fill="#c9c9cd"/>
<rect x="220.40" y="431.77" width="10.80" height="2.92" fill="#a3082f"/>
<text x="225.80" y="430.17" font-size="7.5" text-anchor="middle" fill="#1a1a1a" stroke="#1a1a1a" stroke-width="0.25">30</text>
<text x="223.40" y="460.30" font-size="8.1" transform="rotate(43.5 223.40 460.30)" fill="#1a1a1a" stroke="#1a1a1a" stroke-width="0.25">12T_NMZL</text>
<rect x="235.25" y="439.81" width="10.80" height="13.89" fill="#c9c9cd"/>
<rect x="235.25" y="436.16" width="10.80" height="3.65" fill="#2b4b8c"/>
<rect x="235.25" y="433.96" width="10.80" height="2.19" fill="#a3082f"/>
<text x="240.65" y="432.36" font-size="7.5" text-anchor="middle" fill="#1a1a1a" stroke="#1a1a1a" stroke-width="0.25">27</text>
<text x="238.25" y="460.30" font-size="8.1" transform="rotate(43.5 238.25 460.30)" fill="#1a1a1a" stroke="#1a1a1a" stroke-width="0.25">15T_NMZL</text>
<rect x="250.10" y="436.16" width="10.80" height="17.54" fill="#c9c9cd"/>
<rect x="250.10" y="435.43" width="10.80" height="0.73" fill="#a3082f"/>
<text x="255.50" y="433.82" font-size="7.5" text-anchor="middle" fill="#1a1a1a" stroke="#1a1a1a" stroke-width="0.25">25</text>
<text x="253.10" y="460.30" font-size="8.1" transform="rotate(43.5 253.10 460.30)" fill="#1a1a1a" stroke="#1a1a1a" stroke-width="0.25">2T_NMZL</text>
<rect x="264.95" y="438.35" width="10.80" height="15.35" fill="#c9c9cd"/>
<rect x="264.95" y="436.16" width="10.80" height="2.19" fill="#a3082f"/>
<text x="270.35" y="434.56" font-size="7.5" text-anchor="middle" fill="#1a1a1a" stroke="#1a1a1a" stroke-width="0.25">24</text>
<text x="267.95" y="460.30" font-size="8.1" transform="rotate(43.5 267.95 460.30)" fill="#1a1a1a" stroke="#1a1a1a" stroke-width="0.25">3T_NMZL</text>
<rect x="279.80" y="439.81" width="10.80" height="13.89" fill="#c9c9cd"/>
<rect x="279.80" y="439.08" width="10.80" height="0.73" fill="#2b4b8c"/>
<rect x="279.80" y="438.35" width="10.80" height="0.73" fill="#a3082f"/>
<text x="285.20" y="436.75" font-size="7.5" text-anchor="middle" fill="#1a1a1a" stroke="#1a1a1a" stroke-width="0.25">21</text>
<text x="282.80" y="460.30" font-size="8.1" transform="rotate(43.5 282.80 460.30)" fill="#1a1a1a" stroke="#1a1a1a" stroke-width="0.25">16T_NMZL</text>
<rect x="294.65" y="440.54" width="10.80" height="13.16" fill="#c9c9cd"/>
<text x="300.05" y="438.94" font-size="7.5" text-anchor="middle" fill="#1a1a1a" stroke="#1a1a1a" stroke-width="0.25">18</text>
<text x="297.65" y="460.30" font-size="8.1" transform="rotate(43.5 297.65 460.30)" fill="#1a1a1a" stroke="#1a1a1a" stroke-width="0.25">1T_NMZL</text>
<rect x="309.50" y="442.74" width="10.80" height="10.96" fill="#c9c9cd"/>
<rect x="309.50" y="440.54" width="10.80" height="2.19" fill="#a3082f"/>
<text x="314.90" y="438.94" font-size="7.5" text-anchor="middle" fill="#1a1a1a" stroke="#1a1a1a" stroke-width="0.25">18</text>
<text x="312.50" y="460.30" font-size="8.1" transform="rotate(43.5 312.50 460.30)" fill="#1a1a1a" stroke="#1a1a1a" stroke-width="0.25">5T_NMZL</text>
<rect x="324.35" y="444.93" width="10.80" height="8.77" fill="#c9c9cd"/>
<rect x="324.35" y="443.47" width="10.80" height="1.46" fill="#2b4b8c"/>
<rect x="324.35" y="442.74" width="10.80" height="0.73" fill="#a3082f"/>
<text x="329.75" y="441.13" font-size="7.5" text-anchor="middle" fill="#1a1a1a" stroke="#1a1a1a" stroke-width="0.25">15</text>
<text x="327.35" y="460.30" font-size="8.1" transform="rotate(43.5 327.35 460.30)" fill="#1a1a1a" stroke="#1a1a1a" stroke-width="0.25">7T_NMZL</text>
<rect x="339.20" y="446.39" width="10.80" height="7.31" fill="#c9c9cd"/>
<rect x="339.20" y="442.74" width="10.80" height="3.65" fill="#a3082f"/>
<text x="344.60" y="441.13" font-size="7.5" text-anchor="middle" fill="#1a1a1a" stroke="#1a1a1a" stroke-width="0.25">15</text>
<text x="342.20" y="460.30" font-size="8.1" transform="rotate(43.5 342.20 460.30)" fill="#1a1a1a" stroke="#1a1a1a" stroke-width="0.25">6T_NMZL</text>
<rect x="354.05" y="443.47" width="10.80" height="10.23" fill="#c9c9cd"/>
<text x="359.45" y="441.87" font-size="7.5" text-anchor="middle" fill="#1a1a1a" stroke="#1a1a1a" stroke-width="0.25">14</text>
<text x="357.05" y="460.30" font-size="8.1" transform="rotate(43.5 357.05 460.30)" fill="#1a1a1a" stroke="#1a1a1a" stroke-width="0.25">10T_NMZL</text>
<rect x="368.90" y="444.20" width="10.80" height="9.50" fill="#c9c9cd"/>
<text x="374.30" y="442.60" font-size="7.5" text-anchor="middle" fill="#1a1a1a" stroke="#1a1a1a" stroke-width="0.25">13</text>
<text x="371.90" y="460.30" font-size="8.1" transform="rotate(43.5 371.90 460.30)" fill="#1a1a1a" stroke="#1a1a1a" stroke-width="0.25">17T_NMZL</text>
<rect x="383.75" y="445.66" width="10.80" height="8.04" fill="#c9c9cd"/>
<text x="389.15" y="444.06" font-size="7.5" text-anchor="middle" fill="#1a1a1a" stroke="#1a1a1a" stroke-width="0.25">11</text>
<text x="386.75" y="460.30" font-size="8.1" transform="rotate(43.5 386.75 460.30)" fill="#1a1a1a" stroke="#1a1a1a" stroke-width="0.25">8T_NMZL</text>
<line x1="130.00" y1="363.60" x2="130.00" y2="454.20" stroke="#1a1a1a" stroke-width="1"/>
<line x1="129.50" y1="453.70" x2="396.50" y2="453.70" stroke="#1a1a1a" stroke-width="1"/>
<line x1="127.00" y1="453.70" x2="130.00" y2="453.70" stroke="#1a1a1a" stroke-width="1"/>
<text x="125.00" y="456.50" font-size="8" text-anchor="end" fill="#1a1a1a" stroke="#1a1a1a" stroke-width="0.25">0</text>
<line x1="127.00" y1="439.08" x2="130.00" y2="439.08" stroke="#1a1a1a" stroke-width="1"/>
<text x="125.00" y="441.88" font-size="8" text-anchor="end" fill="#1a1a1a" stroke="#1a1a1a" stroke-width="0.25">20</text>
<line x1="127.00" y1="424.46" x2="130.00" y2="424.46" stroke="#1a1a1a" stroke-width="1"/>
<text x="125.00" y="427.26" font-size="8" text-anchor="end" fill="#1a1a1a" stroke="#1a1a1a" stroke-width="0.25">40</text>
<line x1="127.00" y1="409.84" x2="130.00" y2="409.84" stroke="#1a1a1a" stroke-width="1"/>
<text x="125.00" y="412.64" font-size="8" text-anchor="end" fill="#1a1a1a" stroke="#1a1a1a" stroke-width="0.25">60</text>
<line x1="127.00" y1="395.22" x2="130.00" y2="395.22" stroke="#1a1a1a" stroke-width="1"/>
<text x="125.00" y="398.02" font-size="8" text-anchor="end" fill="#1a1a1a" stroke="#1a1a1a" stroke-width="0.25">80</text>
<line x1="127.00" y1="380.60" x2="130.00" y2="380.60" stroke="#1a1a1a" stroke-width="1"/>
<text x="125.00" y="383.40" font-size="8" text-anchor="end" fill="#1a1a1a" stroke="#1a1a1a" stroke-width="0.25">100</text>
<line x1="127.00" y1="365.98" x2="130.00" y2="365.98" stroke="#1a1a1a" stroke-width="1"/>
<text x="125.00" y="368.78" font-size="8" text-anchor="end" fill="#1a1a1a" stroke="#1a1a1a" stroke-width="0.25">120</text>
<text x="105.30" y="407.50" font-size="9.6" text-anchor="middle" transform="rotate(-90 105.30 407.50)" textLength="83" lengthAdjust="spacingAndGlyphs" fill="#1a1a1a" stroke="#1a1a1a" stroke-width="0.25">No. of genetic lesions</text>
<text x="262.30" y="502.00" font-size="10" text-anchor="middle" textLength="42.6" lengthAdjust="spacingAndGlyphs" fill="#1a1a1a" stroke="#1a1a1a" stroke-width="0.25">Patient No.</text>
<rect x="174.50" y="508.90" width="4.60" height="4.60" fill="#a3082f"/>
<text x="182.90" y="513.90" font-size="7.5" fill="#1a1a1a" stroke="#1a1a1a" stroke-width="0.25">CN gains</text>
<rect x="222.70" y="508.90" width="4.60" height="4.60" fill="#2b4b8c"/>
<text x="231.00" y="513.90" font-size="7.5" fill="#1a1a1a" stroke="#1a1a1a" stroke-width="0.25">CN losses</text>
<rect x="274.10" y="508.90" width="4.60" height="4.60" fill="#c9c9cd"/>
<text x="281.60" y="513.90" font-size="7.5" fill="#1a1a1a" stroke="#1a1a1a" stroke-width="0.25">Non-silent mutations</text>
<rect x="0.5" y="0.5" width="519" height="521" fill="none" stroke="#000" stroke-width="1"/>
</svg>
</body></html>
